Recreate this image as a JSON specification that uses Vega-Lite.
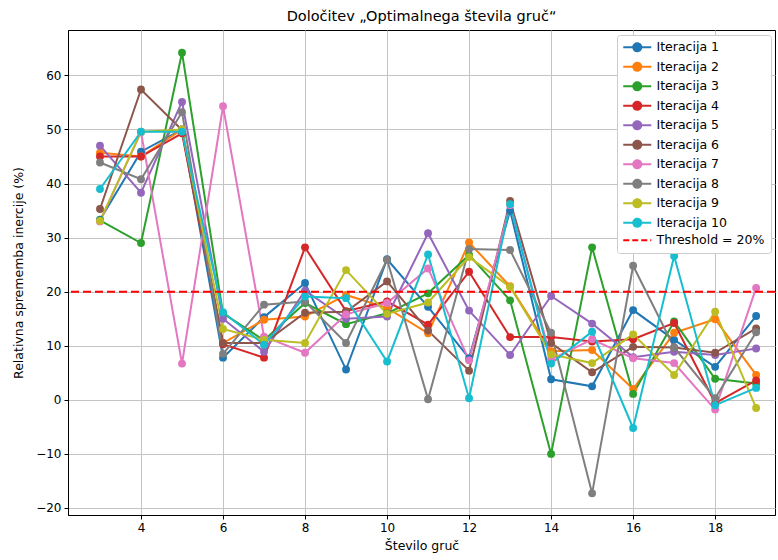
{
  "$schema": "https://vega.github.io/schema/vega-lite/v6.json",
  "width": 707,
  "height": 485,
  "autosize": {"type": "none"},
  "padding": {"left": 68, "top": 30, "right": 3, "bottom": 45},
  "background": "white",
  "title": {"text": "Določitev „Optimalnega števila gruč“", "font": "DejaVu Sans", "fontSize": 14.5, "fontWeight": "normal", "color": "black", "offset": 6},
  "config": {
    "font": "DejaVu Sans",
    "view": {"stroke": "black", "strokeWidth": 1},
    "axis": {"labelFont": "DejaVu Sans", "labelFontSize": 12, "labelColor": "black", "titleFont": "DejaVu Sans", "titleFontSize": 12.5, "titleFontWeight": "normal", "titleColor": "black", "domainColor": "black", "tickColor": "black", "tickSize": 4, "gridColor": "#c4c4c4", "gridWidth": 1, "labelPadding": 3}
  },
  "layer": [
    {
      "data": {"values": [
        {"x": 3, "Iteracija 1": 33.3, "Iteracija 2": 45.7, "Iteracija 3": 33.2, "Iteracija 4": 45.0, "Iteracija 5": 47.0, "Iteracija 6": 35.3, "Iteracija 7": 33.0, "Iteracija 8": 43.9, "Iteracija 9": 33.1, "Iteracija 10": 39.0},
        {"x": 4, "Iteracija 1": 45.9, "Iteracija 2": 45.0, "Iteracija 3": 29.0, "Iteracija 4": 45.0, "Iteracija 5": 38.3, "Iteracija 6": 57.4, "Iteracija 7": 49.5, "Iteracija 8": 40.8, "Iteracija 9": 49.6, "Iteracija 10": 49.6},
        {"x": 5, "Iteracija 1": 50.0, "Iteracija 2": 50.0, "Iteracija 3": 64.2, "Iteracija 4": 49.3, "Iteracija 5": 55.1, "Iteracija 6": 49.9, "Iteracija 7": 6.7, "Iteracija 8": 53.2, "Iteracija 9": 50.0, "Iteracija 10": 49.6},
        {"x": 6, "Iteracija 1": 7.8, "Iteracija 2": 10.5, "Iteracija 3": 16.0, "Iteracija 4": 10.3, "Iteracija 5": 15.0, "Iteracija 6": 10.5, "Iteracija 7": 54.3, "Iteracija 8": 8.5, "Iteracija 9": 13.1, "Iteracija 10": 16.2},
        {"x": 7, "Iteracija 1": 15.3, "Iteracija 2": 14.8, "Iteracija 3": 11.0, "Iteracija 4": 7.8, "Iteracija 5": 8.9, "Iteracija 6": 10.5, "Iteracija 7": 11.7, "Iteracija 8": 17.6, "Iteracija 9": 11.1, "Iteracija 10": 10.2},
        {"x": 8, "Iteracija 1": 21.6, "Iteracija 2": 15.4, "Iteracija 3": 17.9, "Iteracija 4": 28.2, "Iteracija 5": 20.2, "Iteracija 6": 16.1, "Iteracija 7": 8.7, "Iteracija 8": 18.2, "Iteracija 9": 10.5, "Iteracija 10": 19.1},
        {"x": 9, "Iteracija 1": 5.6, "Iteracija 2": 19.4, "Iteracija 3": 14.0, "Iteracija 4": 16.4, "Iteracija 5": 15.0, "Iteracija 6": 16.3, "Iteracija 7": 15.8, "Iteracija 8": 10.5, "Iteracija 9": 24.0, "Iteracija 10": 18.8},
        {"x": 10, "Iteracija 1": 26.0, "Iteracija 2": 17.0, "Iteracija 3": 16.0, "Iteracija 4": 18.2, "Iteracija 5": 15.4, "Iteracija 6": 21.9, "Iteracija 7": 17.9, "Iteracija 8": 25.9, "Iteracija 9": 15.9, "Iteracija 10": 7.1},
        {"x": 11, "Iteracija 1": 17.2, "Iteracija 2": 12.3, "Iteracija 3": 19.7, "Iteracija 4": 13.9, "Iteracija 5": 30.8, "Iteracija 6": 12.8, "Iteracija 7": 24.3, "Iteracija 8": 0.1, "Iteracija 9": 18.0, "Iteracija 10": 26.9},
        {"x": 12, "Iteracija 1": 7.7, "Iteracija 2": 29.1, "Iteracija 3": 26.8, "Iteracija 4": 23.7, "Iteracija 5": 16.5, "Iteracija 6": 5.4, "Iteracija 7": 7.3, "Iteracija 8": 27.9, "Iteracija 9": 26.4, "Iteracija 10": 0.3},
        {"x": 13, "Iteracija 1": 35.0, "Iteracija 2": 21.0, "Iteracija 3": 18.4, "Iteracija 4": 11.6, "Iteracija 5": 8.3, "Iteracija 6": 36.8, "Iteracija 7": 36.0, "Iteracija 8": 27.7, "Iteracija 9": 20.9, "Iteracija 10": 36.2},
        {"x": 14, "Iteracija 1": 3.8, "Iteracija 2": 9.0, "Iteracija 3": -10.0, "Iteracija 4": 11.6, "Iteracija 5": 19.2, "Iteracija 6": 10.5, "Iteracija 7": 7.5, "Iteracija 8": 12.4, "Iteracija 9": 8.4, "Iteracija 10": 6.7},
        {"x": 15, "Iteracija 1": 2.5, "Iteracija 2": 9.2, "Iteracija 3": 28.2, "Iteracija 4": 10.8, "Iteracija 5": 14.1, "Iteracija 6": 5.1, "Iteracija 7": 11.2, "Iteracija 8": -17.3, "Iteracija 9": 6.8, "Iteracija 10": 12.6},
        {"x": 16, "Iteracija 1": 16.6, "Iteracija 2": 2.0, "Iteracija 3": 1.1, "Iteracija 4": 11.2, "Iteracija 5": 7.9, "Iteracija 6": 9.8, "Iteracija 7": 7.7, "Iteracija 8": 24.8, "Iteracija 9": 12.1, "Iteracija 10": -5.2},
        {"x": 17, "Iteracija 1": 11.1, "Iteracija 2": 12.4, "Iteracija 3": 14.5, "Iteracija 4": 14.2, "Iteracija 5": 8.9, "Iteracija 6": 9.7, "Iteracija 7": 6.8, "Iteracija 8": 9.7, "Iteracija 9": 4.6, "Iteracija 10": 26.6},
        {"x": 18, "Iteracija 1": 6.1, "Iteracija 2": 14.9, "Iteracija 3": 3.9, "Iteracija 4": -0.6, "Iteracija 5": 8.3, "Iteracija 6": 8.7, "Iteracija 7": -1.8, "Iteracija 8": 0.3, "Iteracija 9": 16.3, "Iteracija 10": -1.0},
        {"x": 19, "Iteracija 1": 15.5, "Iteracija 2": 4.6, "Iteracija 3": 3.0, "Iteracija 4": 3.6, "Iteracija 5": 9.5, "Iteracija 6": 13.2, "Iteracija 7": 20.7, "Iteracija 8": 12.5, "Iteracija 9": -1.5, "Iteracija 10": 2.2}
      ]},
      "transform": [{"fold": ["Iteracija 1", "Iteracija 2", "Iteracija 3", "Iteracija 4", "Iteracija 5", "Iteracija 6", "Iteracija 7", "Iteracija 8", "Iteracija 9", "Iteracija 10"], "as": ["series", "v"]}],
      "encoding": {
        "x": {"field": "x", "type": "quantitative", "scale": {"domain": [2.22, 19.46], "nice": false, "zero": false},
          "axis": {"values": [4, 6, 8, 10, 12, 14, 16, 18], "title": "Število gruč", "grid": true, "titlePadding": 6}},
        "y": {"field": "v", "type": "quantitative", "scale": {"domain": [-21.3, 68.4], "nice": false, "zero": false},
          "axis": {"values": [-20, -10, 0, 10, 20, 30, 40, 50, 60], "title": "Relativna sprememba inercije (%)", "grid": true, "labelExpr": "replace(datum.label, '-', '−')", "titlePadding": 10}},
        "color": {"field": "series", "type": "nominal",
          "scale": {"domain": ["Iteracija 1", "Iteracija 2", "Iteracija 3", "Iteracija 4", "Iteracija 5", "Iteracija 6", "Iteracija 7", "Iteracija 8", "Iteracija 9", "Iteracija 10", "Threshold = 20%"],
                    "range": ["#1f77b4", "#ff7f0e", "#2ca02c", "#d62728", "#9467bd", "#8c564b", "#e377c2", "#7f7f7f", "#bcbd22", "#17becf", "#ff0000"]},
          "legend": {"title": null, "orient": "none", "legendX": 549, "legendY": 5, "padding": 6, "fillColor": "white", "strokeColor": "#cccccc", "cornerRadius": 3,
            "labelFont": "DejaVu Sans", "labelFontSize": 12.5, "labelColor": "black", "labelOffset": 21, "rowPadding": 2.5, "symbolSize": 100, "symbolStrokeWidth": 2,
            "encode": {"symbols": {"update": {
              "shape": {"signal": "datum.value === 'Threshold = 20%' ? 'M-1.2,0H4.4' : 'M-1.2,0H4.4M2.4,0A0.8,0.8 0 1,1 0.8,0A0.8,0.8 0 1,1 2.4,0'"},
              "stroke": {"signal": "scale('color', datum.value)"},
              "fill": {"signal": "datum.value === 'Threshold = 20%' ? 'transparent' : scale('color', datum.value)"},
              "strokeDash": {"signal": "datum.value === 'Threshold = 20%' ? [6, 3] : [1, 0]"},
              "strokeWidth": {"value": 2},
              "opacity": {"value": 1}
            }}}}}
      },
      "layer": [
        {"mark": {"type": "line", "strokeWidth": 2}},
        {"mark": {"type": "point", "filled": true, "size": 62, "opacity": 1, "shape": "circle"}}
      ]
    },
    {
      "data": {"values": [{"t": 20, "label": "Threshold = 20%"}]},
      "mark": {"type": "rule", "strokeDash": [8, 4], "strokeWidth": 2},
      "encoding": {"y": {"field": "t", "type": "quantitative"}, "color": {"field": "label", "type": "nominal"}}
    }
  ]
}
